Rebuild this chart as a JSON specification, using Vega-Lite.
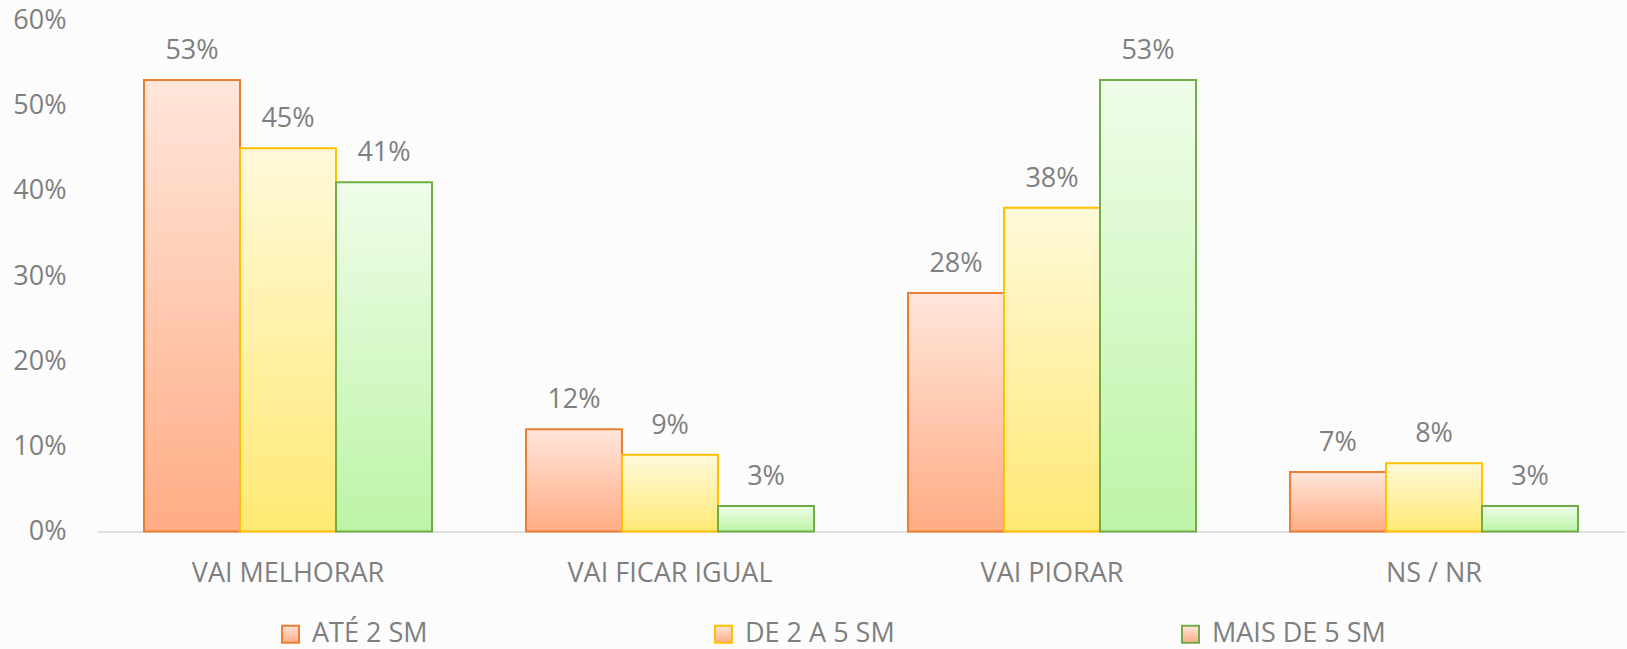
{
  "$schema": "https://vega.github.io/schema/vega-lite/v6.json",
  "autosize": {"type": "none"},
  "width": 1528,
  "height": 511,
  "padding": {"left": 97, "top": 20.5, "right": 2, "bottom": 117.5},
  "background": "#fcfcfc",
  "config": {"view": {"stroke": null}},
  "data": {"values": [
    {"categoria": "VAI MELHORAR", "faixa": "ATÉ 2 SM", "valor": 0.53},
    {"categoria": "VAI MELHORAR", "faixa": "DE 2 A 5 SM", "valor": 0.45},
    {"categoria": "VAI MELHORAR", "faixa": "MAIS DE 5 SM", "valor": 0.41},
    {"categoria": "VAI FICAR IGUAL", "faixa": "ATÉ 2 SM", "valor": 0.12},
    {"categoria": "VAI FICAR IGUAL", "faixa": "DE 2 A 5 SM", "valor": 0.09},
    {"categoria": "VAI FICAR IGUAL", "faixa": "MAIS DE 5 SM", "valor": 0.03},
    {"categoria": "VAI PIORAR", "faixa": "ATÉ 2 SM", "valor": 0.28},
    {"categoria": "VAI PIORAR", "faixa": "DE 2 A 5 SM", "valor": 0.38},
    {"categoria": "VAI PIORAR", "faixa": "MAIS DE 5 SM", "valor": 0.53},
    {"categoria": "NS / NR", "faixa": "ATÉ 2 SM", "valor": 0.07},
    {"categoria": "NS / NR", "faixa": "DE 2 A 5 SM", "valor": 0.08},
    {"categoria": "NS / NR", "faixa": "MAIS DE 5 SM", "valor": 0.03}
  ]},
  "encoding": {
    "x": {
      "field": "categoria", "type": "nominal", "sort": ["VAI MELHORAR", "VAI FICAR IGUAL", "VAI PIORAR", "NS / NR"],
      "scale": {"paddingInner": 0.246, "paddingOuter": 0.123},
      "axis": {"title": null, "labelAngle": 0, "labelFont": "Open Sans", "labelFontSize": 27, "labelColor": "#7f7f7f", "labelPadding": 29, "labelLimit": 500, "ticks": false, "domainColor": "#d9d9d9", "domainWidth": 1.5}
    },
    "xOffset": {"field": "faixa", "type": "nominal", "sort": null, "scale": {"domain": ["ATÉ 2 SM", "DE 2 A 5 SM", "MAIS DE 5 SM"], "paddingInner": 0, "paddingOuter": 0}},
    "y": {
      "field": "valor", "type": "quantitative",
      "scale": {"domain": [0, 0.6], "nice": false},
      "axis": {"title": null, "format": ".0%", "values": [0, 0.1, 0.2, 0.3, 0.4, 0.5, 0.6], "grid": false, "domain": false, "ticks": false, "labelFont": "Open Sans", "labelFontSize": 27, "labelColor": "#7f7f7f", "labelPadding": 31}
    },
    "stroke": {
      "field": "faixa", "type": "nominal",
      "scale": {"domain": ["ATÉ 2 SM", "DE 2 A 5 SM", "MAIS DE 5 SM"], "range": ["#ED7D31", "#FFC000", "#70AD47"]},
      "legend": {
        "title": null, "orient": "none", "legendX": 180, "legendY": 600, "direction": "horizontal", "columnPadding": 282,
        "symbolType": "square", "symbolSize": 289, "symbolStrokeWidth": 2, "labelOffset": 8,
        "labelFont": "Open Sans", "labelFontSize": 27, "labelColor": "#7f7f7f", "labelLimit": 400,
        "encode": {"symbols": {"update": {"fill": {"signal": "datum.value === 'ATÉ 2 SM' ? '#FFC8AE' : datum.value === 'DE 2 A 5 SM' ? '#FFF1A6' : '#D6F8C8'"}, "fillOpacity": {"value": 1}}}}
      }
    }
  },
  "layer": [
    {
      "transform": [{"filter": "datum.faixa === 'ATÉ 2 SM'"}],
      "mark": {"type": "bar", "strokeWidth": 2, "fill": {"gradient": "linear", "x1": 0, "y1": 0, "x2": 0, "y2": 1, "stops": [{"offset": 0, "color": "#FFE6DB"}, {"offset": 1, "color": "#FFAC84"}]}}
    },
    {
      "transform": [{"filter": "datum.faixa === 'DE 2 A 5 SM'"}],
      "mark": {"type": "bar", "strokeWidth": 2, "fill": {"gradient": "linear", "x1": 0, "y1": 0, "x2": 0, "y2": 1, "stops": [{"offset": 0, "color": "#FFF9DA"}, {"offset": 1, "color": "#FFE974"}]}}
    },
    {
      "transform": [{"filter": "datum.faixa === 'MAIS DE 5 SM'"}],
      "mark": {"type": "bar", "strokeWidth": 2, "fill": {"gradient": "linear", "x1": 0, "y1": 0, "x2": 0, "y2": 1, "stops": [{"offset": 0, "color": "#EFFDE9"}, {"offset": 1, "color": "#BDF4A6"}]}}
    },
    {
      "mark": {"type": "text", "baseline": "alphabetic", "dy": -21, "font": "Open Sans", "fontSize": 27, "fill": "#7f7f7f"},
      "encoding": {"text": {"field": "valor", "type": "quantitative", "format": ".0%"}, "stroke": {"value": null}}
    }
  ]
}
